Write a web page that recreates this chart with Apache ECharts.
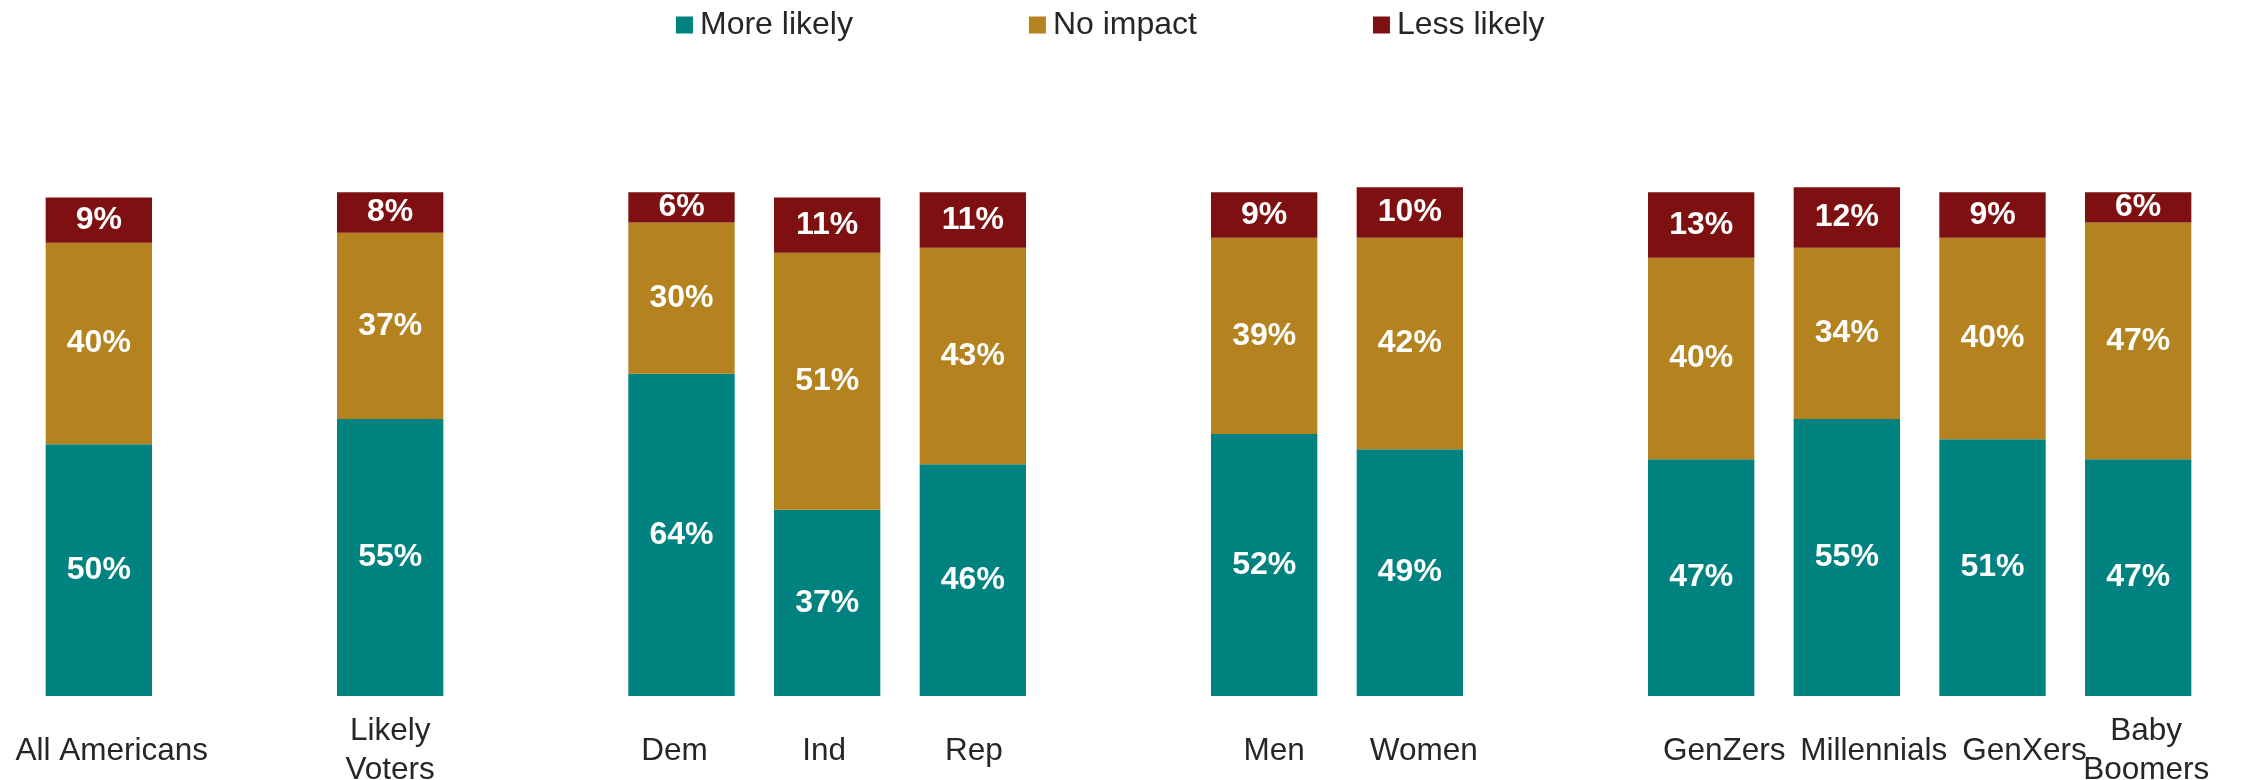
<!DOCTYPE html>
<html>
<head>
<meta charset="utf-8">
<script src="https://cdn.jsdelivr.net/npm/echarts@6/dist/echarts.min.js"></script>
<style>
html,body{margin:0;padding:0;background:#fff;}
#chart{width:2264px;height:780px;}
</style>
</head>
<body>
<div id="chart"></div>
<script>
const categories = ['All Americans', ' ', 'Likely\nVoters', '  ', 'Dem', 'Ind', 'Rep', '   ', 'Men', 'Women', '    ', 'GenZers', 'Millennials', 'GenXers', 'Baby\nBoomers'];
const moreLikely = [50, null, 55, null, 64, 37, 46, null, 52, 49, null, 47, 55, 51, 47];
const noImpact   = [40, null, 37, null, 30, 51, 43, null, 39, 42, null, 40, 34, 40, 47];
const lessLikely = [9,  null, 8,  null, 6,  11, 11, null, 9,  10, null, 13, 12, 9,  6];
const seriesNames = ['More likely', 'No impact', 'Less likely'];

// styling only: horizontal nudge of each category label (px), as placed in the original
const labelNudge = [13, 0, 0, 0, -7, -3, 1, 0, 10, 14, 0, 23, 27, 32, 8];
const colors = ['#008380', '#B4821E', '#7F1012'];

const font = '"Liberation Sans", Arial, sans-serif';
const chart = echarts.init(document.getElementById('chart'), null, {renderer: 'canvas'});

const axisData = categories.map(function (c, i) {
  const n = labelNudge[i];
  const pad = n >= 0 ? [0, 0, 0, 2 * n] : [0, -2 * n, 0, 0];
  return {value: c, textStyle: {padding: pad, verticalAlign: 'middle', lineHeight: 39}};
});

function mkSeries(name, data, color) {
  return {
    name: name,
    type: 'bar',
    stack: 'total',
    data: data,
    barWidth: '73%',
    clip: false,
    itemStyle: {color: color},
    label: {
      show: true,
      position: 'inside',
      formatter: '{c}%',
      color: '#ffffff',
      fontFamily: font,
      fontWeight: 'bold',
      fontSize: 32
    },
    emphasis: {disabled: true}
  };
}

chart.setOption({
  animation: false,
  color: colors,
  legend: {
    data: seriesNames,
    left: 671,
    top: 4,
    icon: 'rect',
    itemWidth: 17,
    itemHeight: 17,
    itemGap: 176,
    textStyle: {fontFamily: font, fontSize: 32, color: '#262626', padding: [0, 0, 0, 2]}
  },
  grid: {left: 26, right: 53, top: 142, bottom: 84, containLabel: false, outerBoundsMode: 'none'},
  xAxis: {
    type: 'category',
    data: axisData,
    axisLine: {show: false},
    axisTick: {show: false},
    axisLabel: {
      interval: 0,
      margin: 55,
      verticalAlign: 'middle',
      fontFamily: font,
      fontSize: 31.5,
      lineHeight: 39,
      color: '#262626'
    }
  },
  yAxis: {
    type: 'value',
    min: 0,
    max: 110,
    show: false,
    splitLine: {show: false}
  },
  series: [
    mkSeries(seriesNames[0], moreLikely, colors[0]),
    mkSeries(seriesNames[1], noImpact, colors[1]),
    mkSeries(seriesNames[2], lessLikely, colors[2])
  ]
});
</script>
</body>
</html>
